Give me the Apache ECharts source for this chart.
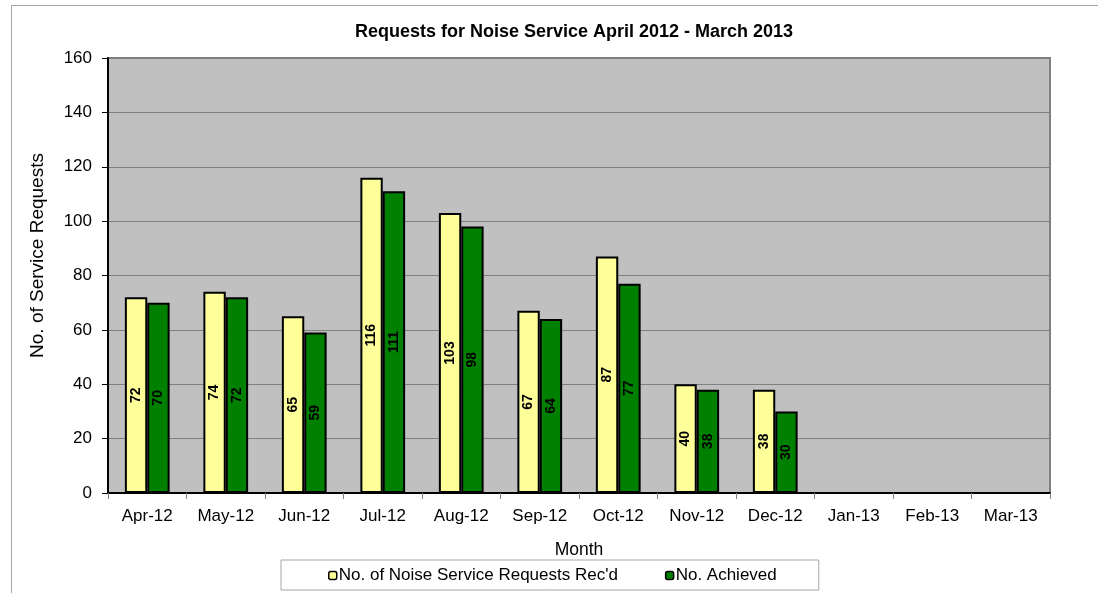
<!DOCTYPE html>
<html lang="en">
<head>
    <meta charset="UTF-8">
    <title>Requests for Noise Service</title>
    <script src="https://cdn.jsdelivr.net/npm/echarts@6/dist/echarts.min.js"></script>
    <style>
        html, body { margin: 0; padding: 0; background: #fff; }
        #frame { position: absolute; left: 11px; top: 5px; width: 1100px; height: 600px; border: 1px solid #a6a6a6; box-sizing: border-box; }
        #main { position: absolute; left: 0; top: 0; width: 1098px; height: 593px; }
    </style>
</head>
<body>
<div id="frame"></div>
<div id="main"></div>
<script type="text/javascript">
    // 数据
    var months = ['Apr-12', 'May-12', 'Jun-12', 'Jul-12', 'Aug-12', 'Sep-12',
                  'Oct-12', 'Nov-12', 'Dec-12', 'Jan-13', 'Feb-13', 'Mar-13'];
    var received = [72, 74, 65, 116, 103, 67, 87, 40, 38, null, null, null];
    var achieved = [70, 72, 59, 111, 98, 64, 77, 38, 30, null, null, null];
    var seriesNames = ["No. of Noise Service Requests Rec'd", 'No. Achieved'];

    var myChart = echarts.init(document.getElementById('main'));
    var font = 'Arial, "Liberation Sans", sans-serif';

    var barLabel = {
        show: true,
        position: 'inside',
        rotate: 90,
        color: '#000',
        fontWeight: 'bold',
        fontSize: 14,
        fontFamily: font
    };

    myChart.setOption({
        animation: false,
        title: {
            text: 'Requests for Noise Service April 2012 - March 2013',
            left: 569,
            textAlign: 'center',
            top: 18,
            textStyle: { fontSize: 18, fontWeight: 'bold', color: '#000', fontFamily: font }
        },
        legend: {
            data: seriesNames,
            left: 281,
            top: 560,
            padding: [7, 42, 6, 47],
            itemGap: 47,
            itemWidth: 8,
            itemHeight: 8,
            itemStyle: { borderColor: '#000', borderWidth: 1.5 },
            borderColor: '#a6a6a6',
            borderWidth: 1,
            textStyle: { fontSize: 17, color: '#000', fontFamily: font, padding: [0, 0, 0, -3] }
        },
        grid: {
            left: 108,
            right: 48,
            top: 58,
            bottom: 100,
            show: true,
            backgroundColor: '#c0c0c0',
            borderColor: '#808080',
            borderWidth: 2
        },
        xAxis: {
            type: 'category',
            data: months,
            name: 'Month',
            nameLocation: 'middle',
            nameGap: 48,
            nameTextStyle: { fontSize: 17.5, color: '#000', fontFamily: font },
            axisLine: { lineStyle: { color: '#000', width: 2 } },
            axisTick: { show: true, length: 6, lineStyle: { color: '#808080' } },
            axisLabel: { fontSize: 17, color: '#000', fontFamily: font, margin: 15 }
        },
        yAxis: {
            type: 'value',
            min: 0,
            max: 160,
            interval: 20,
            name: 'No. of Service Requests',
            nameLocation: 'middle',
            nameGap: 61,
            // 标题在参考图中略偏上
            nameTextStyle: { fontSize: 19, color: '#000', fontFamily: font, padding: [0, 0, 0, 40] },
            axisLine: { show: true, lineStyle: { color: '#000', width: 2 } },
            axisTick: { show: true, length: 6, lineStyle: { color: '#000' } },
            axisLabel: { fontSize: 17, color: '#000', fontFamily: font, margin: 16 },
            splitLine: { lineStyle: { color: '#808080', width: 1 } }
        },
        series: [{
            name: seriesNames[0],
            type: 'bar',
            data: received,
            barGap: '0%',
            barCategoryGap: '43%',
            itemStyle: { color: '#ffff99', borderColor: '#000', borderWidth: 2 },
            label: barLabel
        }, {
            name: seriesNames[1],
            type: 'bar',
            data: achieved,
            itemStyle: { color: '#008000', borderColor: '#000', borderWidth: 2 },
            label: barLabel
        }]
    });

    window.addEventListener('resize', function () {
        myChart.resize();
    });
</script>
</body>
</html>
